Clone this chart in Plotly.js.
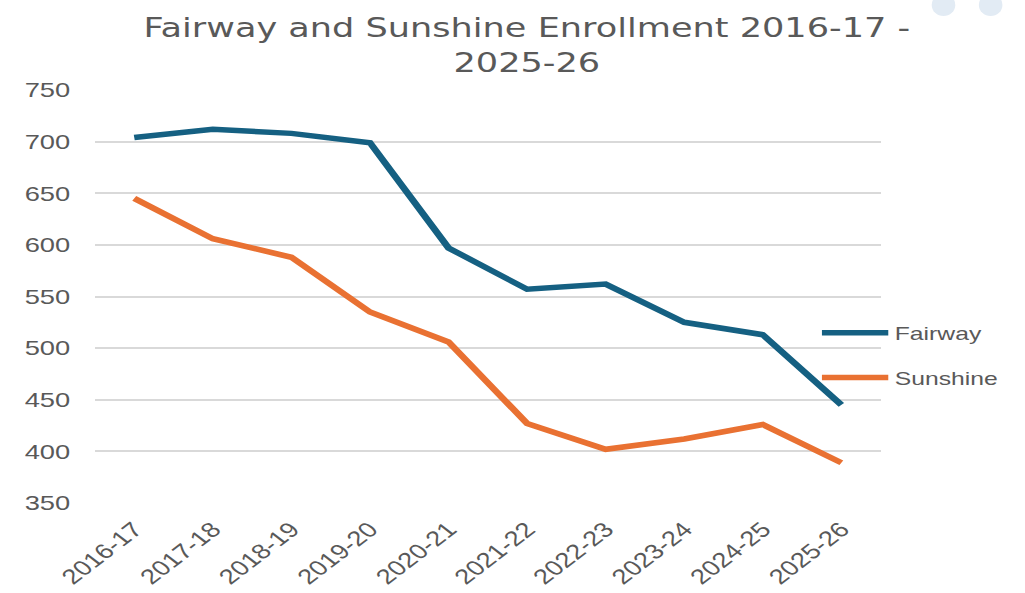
<!DOCTYPE html>
<html>
<head>
<meta charset="utf-8">
<script src="https://cdn.plot.ly/plotly-3.0.1.min.js"></script>
<style>
  html, body { margin: 0; padding: 0; background: #ffffff; overflow: hidden; }
  #chart { width: 788px; height: 593px; transform: scaleX(1.3008); transform-origin: 0 0; }
</style>
</head>
<body>
<div id="chart"></div>
<script>
// ---- data ----
const years = ["2016-17", "2017-18", "2018-19", "2019-20", "2020-21",
               "2021-22", "2022-23", "2023-24", "2024-25", "2025-26"];
const fairway  = [704, 712, 708, 699, 597, 557, 562, 525, 513, 445];
const sunshine = [645, 606, 588, 535, 506, 427, 402, 412, 426, 389];
const seriesNames = ["Fairway", "Sunshine"];
const yTicks = [350, 400, 450, 500, 550, 600, 650, 700, 750];
const titleText = "Fairway and Sunshine Enrollment 2016-17 -<br>2025-26";

const textColor = "#595959";
const tickFont = { family: "Liberation Sans, Arial, sans-serif", size: 21, color: textColor };

const traces = [
  {
    x: years, y: fairway, name: seriesNames[0], type: "scatter", mode: "lines",
    line: { color: "#156082", width: 5.5 }, legendgroup: "a"
  },
  {
    x: years, y: sunshine, name: seriesNames[1], type: "scatter", mode: "lines",
    line: { color: "#E97132", width: 5.5 }, legendgroup: "b"
  }
];

const layout = {
  width: 788, height: 593,
  margin: { l: 73, r: 111, t: 90, b: 90 },
  paper_bgcolor: "#ffffff", plot_bgcolor: "#ffffff",
  title: {
    text: titleText,
    font: { family: "DejaVu Sans, sans-serif", size: 27, color: textColor },
    x: 0.514, xref: "container", xanchor: "center",
    y: 0.937, yref: "container", yanchor: "top"
  },
  xaxis: {
    type: "category", range: [-0.5, 9.5],
    tickangle: -45, tickfont: tickFont,
    showgrid: false, showline: false, zeroline: false, ticks: "",
    ticklabelstandoff: 9
  },
  yaxis: {
    range: [350, 750], tickvals: yTicks,
    tickfont: tickFont,
    showgrid: true, gridcolor: "#d9d9d9", gridwidth: 1.5,
    showline: false, zeroline: false, ticks: "",
    ticklabelstandoff: 18
  },
  showlegend: true,
  legend: {
    x: 0.917, xanchor: "left", y: 0.458, yanchor: "top",
    font: { family: "Liberation Sans, Arial, sans-serif", size: 19, color: textColor },
    bgcolor: "rgba(0,0,0,0)", borderwidth: 0,
    traceorder: "grouped", tracegroupgap: 17, itemwidth: 51
  },
  shapes: [
    { type: "circle", xref: "paper", yref: "paper", x0: 1.065, x1: 1.095, y0: 1.179, y1: 1.233,
      fillcolor: "#e2ebf4", line: { width: 0 }, layer: "above" },
    { type: "circle", xref: "paper", yref: "paper", x0: 1.125, x1: 1.155, y0: 1.179, y1: 1.233,
      fillcolor: "#e2ebf4", line: { width: 0 }, layer: "above" }
  ]
};

Plotly.newPlot("chart", traces, layout, { displayModeBar: false, responsive: false });
</script>
</body>
</html>
